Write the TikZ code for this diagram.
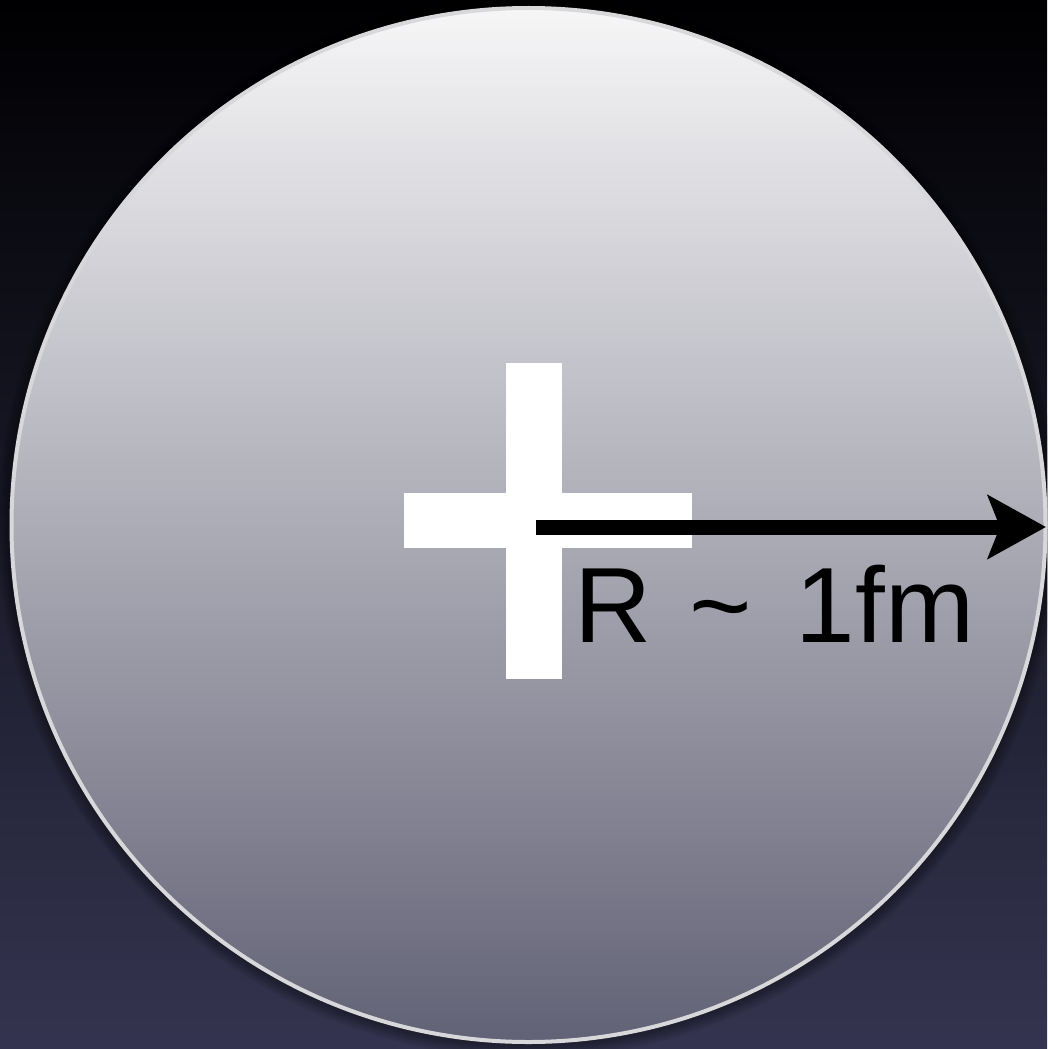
\documentclass[tikz,border=0pt]{standalone}
\usepackage{fontspec}
\setmainfont{Liberation Sans}
\usetikzlibrary{arrows.meta}
\definecolor{bgtop}{RGB}{0,0,2}
\definecolor{bgbot}{RGB}{52,52,80}
\definecolor{ctop}{RGB}{246,246,247}
\definecolor{cmid}{RGB}{178,178,186}
\definecolor{cbot}{RGB}{98,98,118}
\definecolor{rim}{RGB}{216,216,218}
\tikzset{
  plusbar/.style={fill=white, draw=none},
  radiusarrow/.style={line width=15pt, -{Stealth[length=58pt, width=63pt, inset=12pt]}},
  label/.style={inner sep=0pt, anchor=base west, font=\fontsize{107}{107}\selectfont}
}
\begin{document}
\begin{tikzpicture}[x=1pt, y=-1pt]
  \useasboundingbox (0,0) rectangle (1047,1049);
  % background
  \shade[top color=bgtop, bottom color=bgbot] (0,0) rectangle (1047,1049);
  % soft shadow round the disc
  \foreach \r in {2,4,...,14} {
    \fill[black, opacity=0.06] (528.5,527) circle (517+\r);
  }
  % disc
  \node[circle, minimum size=1034pt, inner sep=0pt, draw=rim, line width=4pt,
        top color=ctop, middle color=cmid, bottom color=cbot] (nucleus) at (528.5,525) {};
  % plus sign
  \node[plusbar, minimum width=56pt, minimum height=316pt, inner sep=0pt] (vbar) at (534,521) {};
  \node[plusbar, minimum width=288pt, minimum height=55pt, inner sep=0pt] (hbar) at (548,520.5) {};
  % radius arrow
  \coordinate (start) at (536,527);
  \coordinate (tip) at (1046,527);
  \draw[radiusarrow] (start) -- (tip);
  % label
  \node[label] (rlabel) at (574,642) {R\hspace{38pt}\textasciitilde\hspace{44pt}1fm};
\end{tikzpicture}
\end{document}
